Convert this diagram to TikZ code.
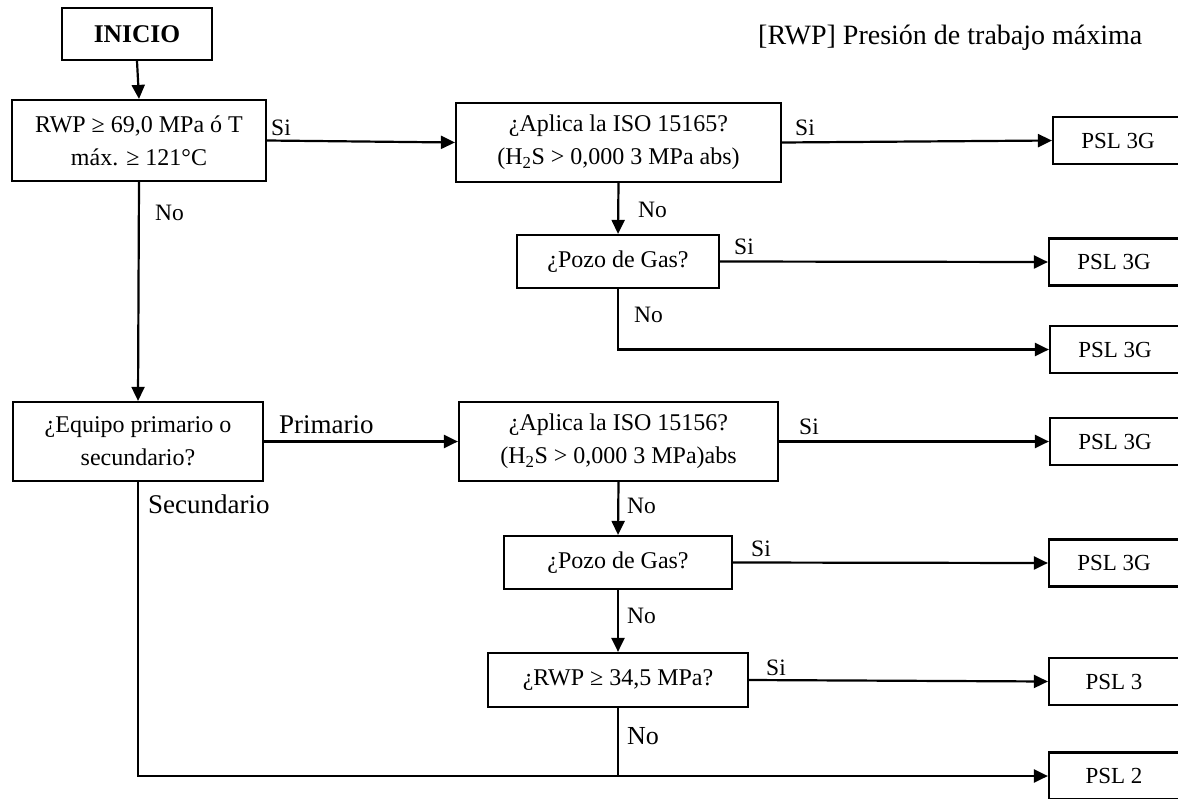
\documentclass[tikz,border=0pt]{standalone}
\usepackage{fontspec}
\setmainfont{Liberation Serif}
\usetikzlibrary{arrows.meta}
\begin{document}
\begin{tikzpicture}[x=1pt,y=-1pt,
  box/.style={draw,line width=2.2pt,inner sep=0pt,align=center,font=\fontsize{24}{33}\selectfont},
  pslbox/.style={box,minimum width=130,minimum height=47,font=\fontsize{23}{27}\selectfont},
  lbl/.style={inner sep=0pt,anchor=west,font=\fontsize{23.5}{27}\selectfont},
  conn/.style={line width=2.2pt},
  arr/.style={conn,-{Triangle[length=14pt,width=13pt]}}]
\useasboundingbox (0,0) rectangle (1178,798);
\clip (0,0) rectangle (1178,798);
% boxes
\node[box,minimum width=150,minimum height=52,font=\fontsize{25.5}{30}\selectfont\bfseries] (inicio) at (137,34) {INICIO};
\node[box,minimum width=254,minimum height=81] (b1) at (139,140.5) {RWP ≥ 69,0 MPa ó T\\máx. ≥ 121°C};
\node[box,minimum width=325,minimum height=79] (b2) at (618.5,142.5) {¿Aplica la ISO 15165?\\(H\textsubscript{2}S > 0,000 3 MPa abs)};
\node[box,minimum width=202,minimum height=53] (b3) at (618,261.5) {¿Pozo de Gas?};
\node[box,minimum width=250,minimum height=79] (b4) at (138,441.5) {¿Equipo primario o\\secundario?};
\node[box,minimum width=319,minimum height=79] (b5) at (618.5,441.5) {¿Aplica la ISO 15156?\\(H\textsubscript{2}S > 0,000 3 MPa)abs};
\node[box,minimum width=228,minimum height=53] (b6) at (618,562.5) {¿Pozo de Gas?};
\node[box,minimum width=260,minimum height=54] (b7) at (618,680) {¿RWP ≥ 34,5 MPa?};
\node[pslbox] (p1) at (1118,140.5) {PSL 3G};
\node[pslbox] (p2) at (1114,262) {PSL 3G};
\node[pslbox] (p3) at (1115,349.5) {PSL 3G};
\node[pslbox] (p4) at (1115,441.5) {PSL 3G};
\node[pslbox] (p5) at (1114,563) {PSL 3G};
\node[pslbox] (p6) at (1114,681.5) {PSL 3};
\node[pslbox] (p7) at (1114,776) {PSL 2};
% header
\node[lbl,font=\fontsize{28}{32}\selectfont] (hdr) at (758,38) {[RWP] Presión de trabajo máxima};
% connectors
\draw[arr] (inicio.south) -- (b1.north);
\draw[arr] (b1.east) -- (b2.west);
\draw[arr] (b2.east) -- (p1.west);
\draw[arr] (b2.south) -- (b3.north);
\draw[arr] (b3.east) -- (p2.west);
\draw[arr] (b3.south) |- (p3.west);
\draw[arr] (b1.south) -- (b4.north);
\draw[arr] (b4.east) -- (b5.west);
\draw[arr] (b5.east) -- (p4.west);
\draw[arr] (b5.south) -- (b6.north);
\draw[arr] (b6.east) -- (p5.west);
\draw[arr] (b6.south) -- (b7.north);
\draw[arr] (b7.east) -- (p6.west);
\draw[arr] (b4.south) |- (p7.west);
\draw[conn] (b7.south) -- (b7.south |- p7.west);
% labels
\node[lbl] (l1) at (271,128) {Si};
\node[lbl] (l2) at (795,128) {Si};
\node[lbl] (l3) at (638,210) {No};
\node[lbl] (l4) at (734,247) {Si};
\node[lbl] (l5) at (634,315) {No};
\node[lbl] (l6) at (155,213) {No};
\node[lbl,font=\fontsize{27}{30}\selectfont] (l7) at (279,425) {Primario};
\node[lbl] (l8) at (799,427) {Si};
\node[lbl] (l9) at (627,506) {No};
\node[lbl] (l10) at (751,549) {Si};
\node[lbl] (l11) at (627,616) {No};
\node[lbl] (l12) at (766,668) {Si};
\node[lbl,font=\fontsize{26}{30}\selectfont] (l13) at (627,736) {No};
\node[lbl,font=\fontsize{27}{30}\selectfont] (l14) at (148,504) {Secundario};
\end{tikzpicture}
\end{document}
